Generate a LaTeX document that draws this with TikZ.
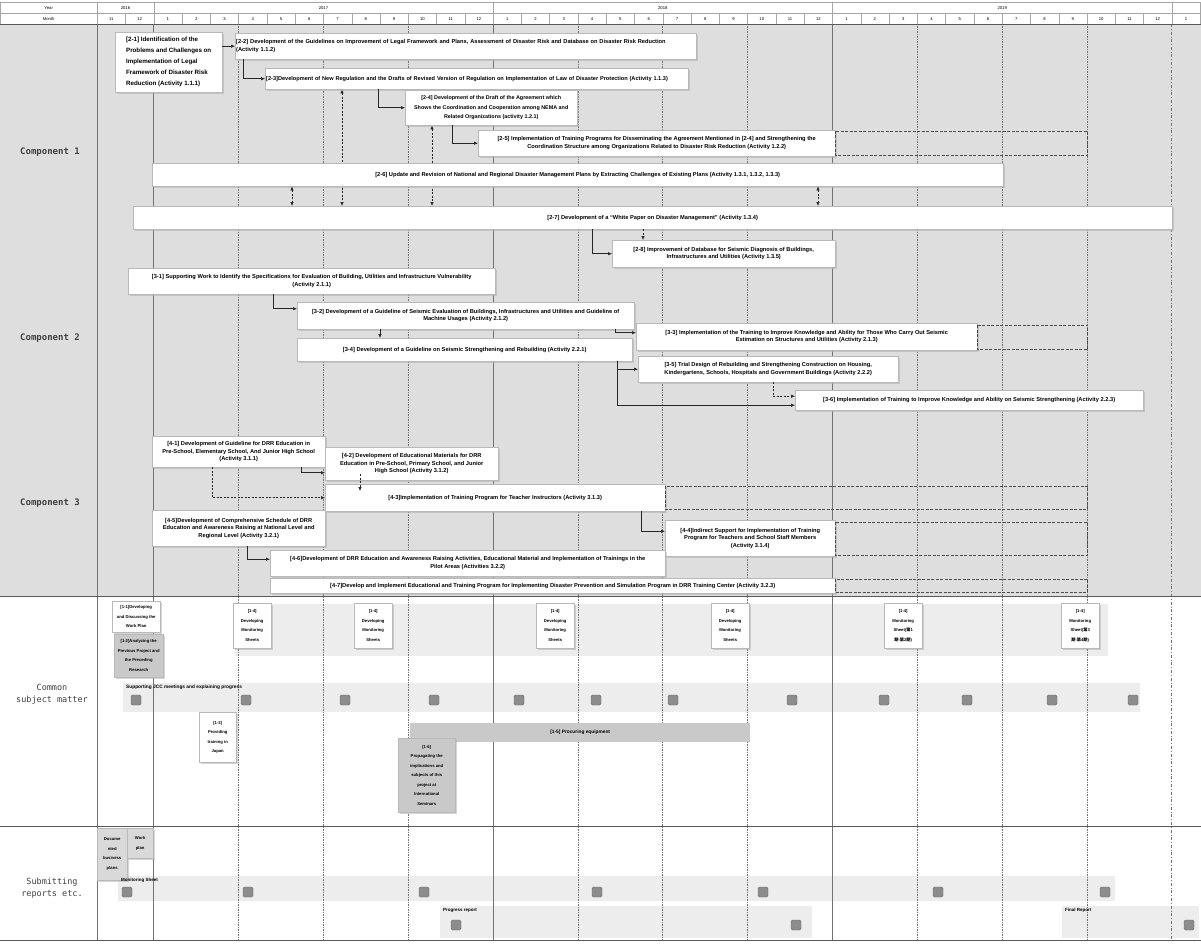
\documentclass[tikz,border=0pt]{standalone}
\usepackage{fontspec}
\setmainfont{Liberation Sans}
\newfontfamily\labfont{DejaVu Sans Mono}
\newfontfamily\jpfont{Noto Sans CJK JP}
\usetikzlibrary{arrows.meta,shadows}
\pgfdeclarelayer{back}
\pgfdeclarelayer{mid}
\pgfsetlayers{back,mid,main}

\begin{document}
\begin{tikzpicture}[
    x=1pt, y=-1pt,
    hcell/.style={draw=gray!70, anchor=north west, minimum height=11pt, inner sep=0pt, font=\fontsize{4.2}{4.2}\selectfont},
    task/.style={draw=gray!55, fill=white, anchor=north west, align=center, inner sep=1pt,
                 font=\bfseries\fontsize{5.7}{7.4}\selectfont,
                 drop shadow={shadow xshift=2pt, shadow yshift=-2pt, fill=gray!65}},
    cbox/.style={task, font=\bfseries\fontsize{4.2}{9.5}\selectfont},
    graybox/.style={cbox, fill=gray!42},
    band/.style={fill=gray!14},
    bandlabel/.style={anchor=north west, inner sep=1pt, font=\bfseries\fontsize{4.5}{5}\selectfont},
    msq/.style={draw=black!60, fill=black!45, rounded corners=1.5pt, minimum size=10pt, inner sep=0pt},
    sidelabel/.style={font=\labfont\fontsize{8.5}{12}\selectfont, text=black!75, align=center},
    conn/.style={draw=black!85, line width=0.6pt, -{Latex[length=4pt,width=3.5pt]}},
    dconn/.style={conn, dash pattern=on 2pt off 1.5pt},
    ddconn/.style={dconn, {Latex[length=4pt,width=3.5pt]}-{Latex[length=4pt,width=3.5pt]}},
    ext/.style={draw=black!70, dash pattern=on 3pt off 1.5pt, line width=0.6pt},
    qline/.style={black!55, dash pattern=on 1.5pt off 1pt, line width=0.5pt},
    yline/.style={black!55, line width=0.6pt},
    sec/.style={black!65, line width=0.9pt}
  ]
  \useasboundingbox (0,0) rectangle (1201,944);

  % background, bands and grid
  \begin{pgfonlayer}{back}
    \fill[white] (0,0) rectangle (1201,944);
    \fill[gray!26] (0,24) rectangle (1201,596);
    \fill[band] (235,604) rectangle (1108,656);
    \fill[band] (123,683) rectangle (1140,712);
    \fill[band] (118,876) rectangle (1115,901);
    \fill[band] (440,906) rectangle (812,938);
    \fill[band] (1062,906) rectangle (1199,938);
    \foreach \k in {5,8,11,17,20,23,29,32,35}
      \draw[qline] ({97+28.28*\k},24) -- ({97+28.28*\k},940);
    \foreach \k in {2,14,26}
      \draw[yline] ({97+28.28*\k},24) -- ({97+28.28*\k},940);
    \draw[yline, dash dot] (1171.64,24) -- (1171.64,940);
    \draw[yline] (97,24) -- (97,940);
  \end{pgfonlayer}

  % header
  \node[hcell, minimum width=97pt] (hy) at (0,2) {Year};
  \node[hcell, minimum width=56.56pt] (y16) at (97,2) {2016};
  \node[hcell, minimum width=339.36pt] (y17) at (153.56,2) {2017};
  \node[hcell, minimum width=339.36pt] (y18) at (492.92,2) {2018};
  \node[hcell, minimum width=339.36pt] (y19) at (832.28,2) {2019};
  \node[hcell, minimum width=28.28pt] (y20) at (1171.64,2) {};
  \node[hcell, minimum width=97pt] (hm) at (0,13) {Month};
  \foreach \m [count=\k from 0] in {11,12,1,2,3,4,5,6,7,8,9,10,11,12,1,2,3,4,5,6,7,8,9,10,11,12,1,2,3,4,5,6,7,8,9,10,11,12,1}
    \node[hcell, minimum width=28.28pt] (m\k) at ({97+28.28*\k},13) {\m};

  \draw[sec] (0,24) -- (1201,24);
  \draw[sec] (0,596) -- (1201,596);
  \draw[sec] (0,826) -- (1201,826);
  \draw[sec] (0,940) -- (1201,940);

  \node[sidelabel, font=\labfont\bfseries\fontsize{9}{12}\selectfont] (lc1) at (50,152) {Component 1};
  \node[sidelabel, font=\labfont\bfseries\fontsize{9}{12}\selectfont] (lc2) at (50,338) {Component 2};
  \node[sidelabel, font=\labfont\bfseries\fontsize{9}{12}\selectfont] (lc3) at (50,503) {Component 3};
  \node[sidelabel] (lcs) at (52,694) {Common\\subject matter};
  \node[sidelabel] (lsr) at (52,888) {Submitting\\reports etc.};

  % component 1
  \node[task, align=left, font=\bfseries\fontsize{6.2}{11}\selectfont, minimum width=107pt, minimum height=60pt] (b21) at (115,32)
    {[2-1] Identification of the\\Problems and Challenges on\\Implementation of Legal\\Framework of Disaster Risk\\Reduction (Activity 1.1.1)};
  \node[task, align=left, text width=459pt, minimum height=26pt] (b22) at (235,33)
    {[2-2] Development of the Guidelines on Improvement of Legal Framework and Plans, Assessment of Disaster Risk and Database on Disaster Risk Reduction\\(Activity 1.1.2)};
  \node[task, align=left, text width=421pt, font=\bfseries\fontsize{5.6}{7.4}\selectfont, minimum height=21pt] (b23) at (265,68)
    {[2-3]Development of New Regulation and the Drafts of Revised Version of Regulation on Implementation of Law of Disaster Protection (Activity 1.1.3)};
  \node[task, font=\bfseries\fontsize{5.4}{9.5}\selectfont, minimum width=172pt, minimum height=35pt] (b24) at (405,90)
    {[2-4] Development of the Draft of the Agreement which\\Shows the Coordination and Cooperation among NEMA and\\Related Organizations (activity 1.2.1)};
  \node[task, minimum width=357pt, minimum height=26pt] (b25) at (478,130)
    {[2-5] Implementation of Training Programs for Disseminating the Agreement Mentioned in [2-4] and Strengthening the\\Coordination Structure among Organizations Related to Disaster Risk Reduction (Activity 1.2.2)};
  \node[task, minimum width=851pt, minimum height=23pt] (b26) at (152,163)
    {[2-6] Update and Revision of National and Regional Disaster Management Plans by Extracting Challenges of Existing Plans (Activity 1.3.1, 1.3.2, 1.3.3)};
  \node[task, minimum width=1039pt, minimum height=23pt] (b27) at (133,206)
    {[2-7] Development of a ``White Paper on Disaster Management'' (Activity 1.3.4)};
  \node[task, minimum width=223pt, minimum height=27pt] (b28) at (612,240)
    {[2-8] Improvement of Database for Seismic Diagnosis of Buildings,\\Infrastructures and Utilities (Activity 1.3.5)};
  \draw[ext] ([yshift=-1pt]b25.north east) rectangle ([xshift=252pt, yshift=1pt]b25.south east);

  \draw[conn] (b21.east |- b22.west) -- (b22.west);
  \draw[conn] ([xshift=8pt]b22.south west) |- (b23.west);
  \draw[conn] ([xshift=113pt]b23.south west) |- (b24.west);
  \draw[conn] ([xshift=47pt]b24.south west) |- (b25.west);
  \begin{pgfonlayer}{mid}
    \draw[ddconn] ([xshift=77pt]b23.south west) -- ([xshift=209pt]b27.north west);
    \draw[ddconn] ([xshift=27pt]b24.south west) -- ([xshift=299pt]b27.north west);
  \end{pgfonlayer}
  \draw[ddconn] ([xshift=140pt]b26.south west) -- ([xshift=159pt]b27.north west);
  \draw[ddconn] ([xshift=666pt]b26.south west) -- ([xshift=685pt]b27.north west);
  \draw[conn] ([xshift=459pt]b27.south west) |- (b28.west);
  \draw[dconn] ([xshift=510pt]b27.south west) -- ([xshift=31pt]b28.north west);

  % component 2
  \node[task, minimum width=367pt, minimum height=26pt] (b31) at (128,268)
    {[3-1] Supporting Work to Identify the Specifications for Evaluation of Building, Utilities and Infrastructure Vulnerability\\(Activity 2.1.1)};
  \node[task, minimum width=337pt, minimum height=27pt] (b32) at (297,302)
    {[3-2] Development of a Guideline of Seismic Evaluation of Buildings, Infrastructures and Utilities and Guideline of\\Machine Usages (Activity 2.1.2)};
  \node[task, minimum width=335pt, minimum height=23pt] (b34) at (297,338)
    {[3-4] Development of a Guideline on Seismic Strengthening and Rebuilding (Activity 2.2.1)};
  \node[task, minimum width=341pt, minimum height=27pt] (b33) at (636,323)
    {[3-3] Implementation of the Training to Improve Knowledge and Ability for Those Who Carry Out Seismic\\Estimation on Structures and Utilities (Activity 2.1.3)};
  \node[task, minimum width=260pt, minimum height=26pt] (b35) at (638,356)
    {[3-5] Trial Design of Rebuilding and Strengthening Construction on Housing,\\Kindergartens, Schools, Hospitals and Government Buildings (Activity 2.2.2)};
  \node[task, minimum width=348pt, minimum height=20pt] (b36) at (795,390)
    {[3-6] Implementation of Training to Improve Knowledge and Ability on Seismic Strengthening (Activity 2.2.3)};
  \draw[ext] ([yshift=-2pt]b33.north east) rectangle ([xshift=110pt, yshift=1pt]b33.south east);

  \draw[conn] ([xshift=145pt]b31.south west) |- ([yshift=7pt]b32.west);
  \draw[conn] ([xshift=83pt]b32.south west) -- ([xshift=83pt]b34.north west);
  \draw[conn] ([xshift=318pt]b32.south west) |- ([yshift=4pt]b33.west);
  \draw[conn] ([xshift=320pt]b34.south west) |- (b35.west);
  \draw[conn] ([xshift=320pt]b34.south west) |- ([yshift=-5pt]b36.west);
  \draw[dconn] ([xshift=135pt]b35.south west) |- ([yshift=4pt]b36.west);

  % component 3
  \node[task, minimum width=173pt, minimum height=31pt] (b41) at (152,436)
    {[4-1] Development of Guideline for DRR Education in\\Pre-School, Elementary School, And Junior High School\\(Activity 3.1.1)};
  \node[task, minimum width=173pt, minimum height=33pt] (b42) at (325,447)
    {[4-2] Development of Educational Materials for DRR\\Education in Pre-School, Primary School, and Junior\\High School (Activity 3.1.2)};
  \node[task, minimum width=340pt, minimum height=27pt] (b43) at (325,484)
    {[4-3]Implementation of Training Program for Teacher Instructors (Activity 3.1.3)};
  \node[task, minimum width=170pt, minimum height=36pt] (b44) at (665,520)
    {[4-4]Indirect Support for Implementation of Training\\Program for Teachers and School Staff Members\\(Activity 3.1.4)};
  \node[task, minimum width=173pt, minimum height=36pt] (b45) at (152,510)
    {[4-5]Development of Comprehensive Schedule of DRR\\Education and Awareness Raising at National Level and\\Regional Level (Activity 3.2.1)};
  \node[task, minimum width=395pt, minimum height=26pt] (b46) at (270,550)
    {[4-6]Development of DRR Education and Awareness Raising Activities, Educational Material and Implementation of Trainings in the\\Pilot Areas (Activities 3.2.2)};
  \node[task, minimum width=565pt, minimum height=15pt] (b47) at (270,578)
    {[4-7]Develop and Implement Educational and Training Program for Implementing Disaster Prevention and Simulation Program in DRR Training Center (Activity 3.2.3)};
  \draw[ext] ([yshift=-2pt]b43.north east) rectangle ([xshift=422pt, yshift=2pt]b43.south east);
  \draw[ext] ([yshift=-2pt]b44.north east) rectangle ([xshift=252pt, yshift=1pt]b44.south east);
  \draw[ext] ([yshift=-1pt]b47.north east) rectangle ([xshift=252pt, yshift=1pt]b47.south east);

  \draw[conn] ([xshift=149pt]b41.south west) |- ([yshift=-9pt]b42.west);
  \draw[dconn] ([xshift=60pt]b41.south west) |- (b43.west);
  \draw[dconn] ([xshift=35pt, yshift=6pt]b42.south west) -- ([xshift=35pt, yshift=-7pt]b43.north west);
  \draw[conn] ([xshift=316pt]b43.south west) |- ([yshift=7pt]b44.west);
  \draw[conn] ([xshift=95pt]b45.south west) |- ([yshift=4pt]b46.west);

  % common subject matter
  \node[cbox, minimum width=48pt, minimum height=31pt] (c11) at (112,601) {[1-1]Developing\\and Discussing the\\Work Plan};
  \node[graybox, minimum width=49pt, minimum height=43pt] (c12) at (114,634) {[1-2]Analyzing the\\Previous Project and\\the Preceding\\Research};
  \foreach \x [count=\i] in {233,354,536,711}
    \node[cbox, minimum width=38pt, minimum height=45pt] (c14\i) at (\x,603) {[1-4]\\Developing\\Monitoring\\Sheets};
  \node[cbox, minimum width=38pt, minimum height=45pt] (c145) at (884,603) {[1-4]\\Monitoring\\Sheet({\jpfont 第}1\\{\jpfont 期}-{\jpfont 第}2{\jpfont 期})};
  \node[cbox, minimum width=38pt, minimum height=45pt] (c146) at (1061,603) {[1-4]\\Monitoring\\Sheet({\jpfont 第}3\\{\jpfont 期}-{\jpfont 第}4{\jpfont 期})};
  \node[bandlabel, font=\bfseries\fontsize{4.8}{5}\selectfont] (jccl) at (125,684) {Supporting JCC meetings and explaining progress};
  \foreach \x [count=\i] in {136,246,345,434,519,596,673,792,884,967,1052,1133}
    \node[msq] (jcc\i) at (\x,700) {};
  \node[cbox, minimum width=37pt, minimum height=50pt] (c13) at (199,712) {[1-3]\\Providing\\training in\\Japan};
  \node[anchor=north west, fill=gray!42, minimum width=340pt, minimum height=19pt, inner sep=0pt,
        font=\bfseries\fontsize{4.8}{5}\selectfont] (c15) at (410,723) {[1-5] Procuring equipment};
  \node[graybox, minimum width=57pt, minimum height=74pt] (c16) at (398,738)
    {[1-6]\\Propagating the\\implications and\\subjects of this\\project at\\International\\Seminars};

  % submitting reports
  \node[graybox, fill=gray!30, minimum width=30pt, minimum height=52pt] (r1) at (97,828) {Docume\\nted\\business\\plans};
  \node[graybox, fill=gray!30, minimum width=26pt, minimum height=30pt] (r2) at (127,828) {Work\\plan};
  \node[bandlabel] (rml) at (120,877) {Monitoring Sheet};
  \foreach \x [count=\i] in {127,248,424,597,763,938,1105}
    \node[msq] (rm\i) at (\x,892) {};
  \node[bandlabel] (rpl) at (442,907) {Progress report};
  \node[msq] (rp1) at (456,925) {};
  \node[msq] (rp2) at (796,925) {};
  \node[bandlabel] (rfl) at (1064,907) {Final Report};
  \node[msq] (rf1) at (1189,925) {};
\end{tikzpicture}
\end{document}
